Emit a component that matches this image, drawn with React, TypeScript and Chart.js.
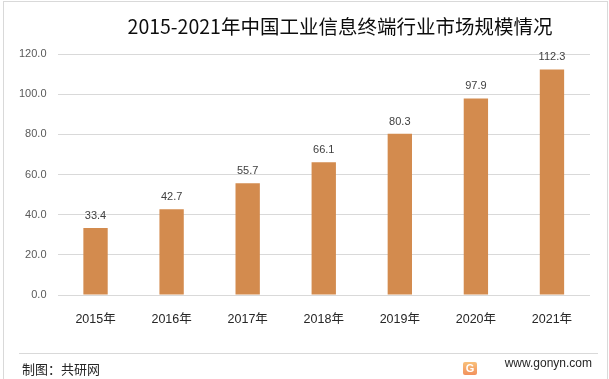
import React, { useEffect, useRef } from "react";
import { Chart, registerables } from "chart.js";

Chart.register(...registerables);

const TITLE = "2015-2021年中国工业信息终端行业市场规模情况";
const CATEGORIES = ["2015年", "2016年", "2017年", "2018年", "2019年", "2020年", "2021年"];
const VALUES = [33.4, 42.7, 55.7, 66.1, 80.3, 97.9, 112.3];
const Y_MIN = 0;
const Y_MAX = 120;
const Y_STEP = 20;
const SOURCE = "制图：共研网";
const SITE = "www.gonyn.com";

const BAR_COLOR = "#D38B4E";
const GRID_COLOR = "#D9D9D9";
const NUM_FONT = '"Liberation Sans", "Noto Sans CJK SC", sans-serif';

const dataLabelPlugin = {
  id: "dataLabels",
  afterDatasetsDraw(chart: any) {
    const ctx = chart.ctx;
    const meta = chart.getDatasetMeta(0);
    ctx.save();
    ctx.font = `11px ${NUM_FONT}`;
    ctx.fillStyle = "#404040";
    ctx.textAlign = "center";
    ctx.textBaseline = "middle";
    meta.data.forEach((bar: any, i: number) => {
      ctx.fillText(VALUES[i].toFixed(1), bar.x, bar.y - 12);
    });
    ctx.restore();
  },
};

export default function App() {
  const canvasRef = useRef<HTMLCanvasElement | null>(null);

  useEffect(() => {
    document.body.style.margin = "0";
    const chart = new Chart(canvasRef.current as HTMLCanvasElement, {
      type: "bar",
      data: {
        labels: CATEGORIES,
        datasets: [
          {
            data: VALUES,
            backgroundColor: BAR_COLOR,
            barPercentage: 0.32,
            categoryPercentage: 1,
          },
        ],
      },
      options: {
        animation: false,
        responsive: false,
        maintainAspectRatio: false,
        layout: { padding: { top: 54, right: 19, bottom: 0, left: 0 } },
        plugins: {
          legend: { display: false },
          title: { display: false },
          tooltip: { enabled: false },
        },
        scales: {
          x: {
            grid: { display: false, drawTicks: false },
            border: { display: false },
            ticks: {
              color: "#262626",
              font: { family: NUM_FONT, size: 12.5 },
              padding: 17,
              maxRotation: 0,
            },
            afterFit(scale: any) {
              scale.height = 84;
            },
          },
          y: {
            min: Y_MIN,
            max: Y_MAX,
            grid: { color: GRID_COLOR, drawTicks: false, lineWidth: 1 },
            border: { display: false },
            ticks: {
              stepSize: Y_STEP,
              color: "#595959",
              font: { family: NUM_FONT, size: 11 },
              padding: 11,
              callback: (v: any) => Number(v).toFixed(1),
            },
            afterFit(scale: any) {
              scale.width = 57.5;
            },
          },
        },
      },
      plugins: [dataLabelPlugin],
    });
    return () => chart.destroy();
  }, []);

  return (
    <div
      style={{
        position: "fixed",
        left: 0,
        top: 0,
        width: 609,
        height: 379,
        overflow: "hidden",
        background: "#fff",
      }}
    >
      <div
        style={{
          position: "absolute",
          left: 3,
          top: 1,
          width: 603,
          height: 400,
          border: "1px solid #D9D9D9",
        }}
      />
      <canvas
        ref={canvasRef}
        width={609}
        height={379}
        style={{ position: "absolute", left: 0, top: 0, width: 609, height: 379 }}
      />
      <div
        style={{
          position: "absolute",
          left: 0,
          width: 680,
          top: 12,
          textAlign: "center",
          fontFamily: '"Noto Sans CJK SC", sans-serif',
          fontSize: 19.5,
          lineHeight: "28px",
          color: "#0d0d0d",
          whiteSpace: "nowrap",
        }}
      >
        {TITLE}
      </div>
      <div
        style={{
          position: "absolute",
          left: 19,
          top: 353,
          width: 579,
          height: 1,
          background: "#D9D9D9",
        }}
      />
      <div
        style={{
          position: "absolute",
          left: 22,
          top: 360,
          fontFamily: '"Noto Sans CJK SC", sans-serif',
          fontSize: 13,
          lineHeight: "18px",
          color: "#262626",
        }}
      >
        {SOURCE}
      </div>
      <div
        style={{
          position: "absolute",
          left: 463,
          top: 362,
          width: 14,
          height: 13,
          borderRadius: 2,
          background: "linear-gradient(180deg, #F8C07A 0%, #F2915C 100%)",
          color: "#fff",
          fontFamily: '"Liberation Sans", sans-serif',
          fontWeight: "bold",
          fontSize: 11,
          lineHeight: "13px",
          textAlign: "center",
        }}
      >
        G
      </div>
      <div
        style={{
          position: "absolute",
          right: 17,
          top: 355,
          fontFamily: '"Liberation Sans", sans-serif',
          fontSize: 12,
          lineHeight: "16px",
          color: "#262626",
        }}
      >
        {SITE}
      </div>
    </div>
  );
}
